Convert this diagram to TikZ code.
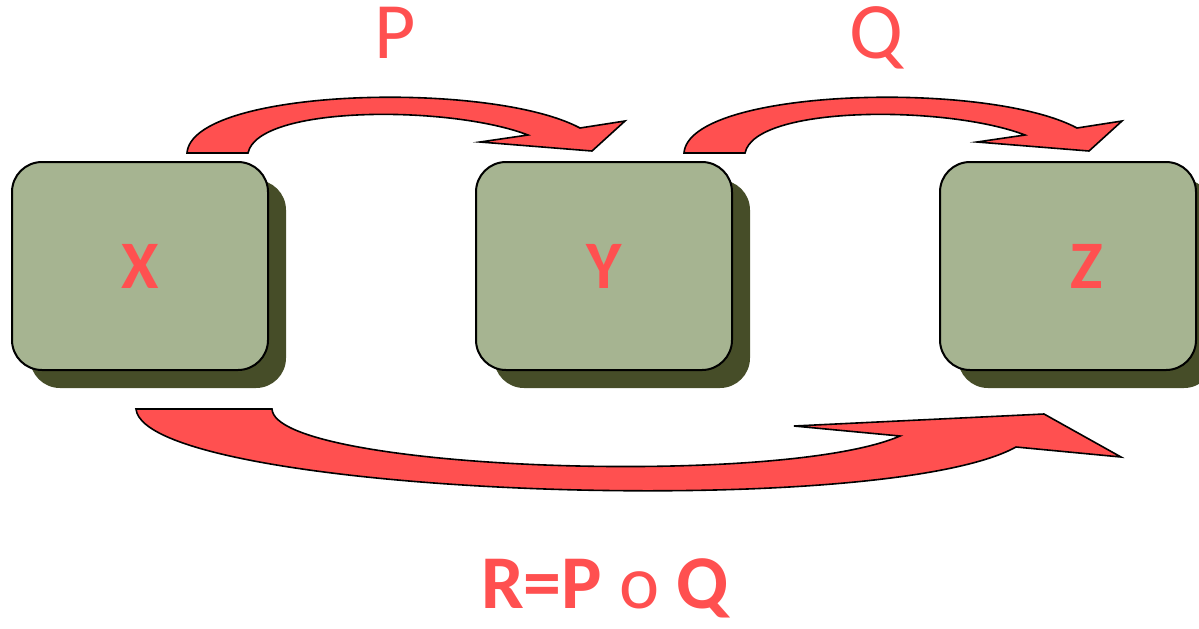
\documentclass[tikz,border=0pt]{standalone}
\usepackage{fontspec}
\setmainfont{Carlito}
\usepackage{tikz}
\usetikzlibrary{shadows}
\definecolor{boxgreen}{RGB}{166,180,145}
\definecolor{shadowolive}{RGB}{70,77,40}
\definecolor{arrowred}{RGB}{255,80,80}

\begin{document}
\begin{tikzpicture}[x=0.5pt,y=-0.5pt,
  box/.style={draw,line width=1pt,rounded corners=15pt,fill=boxgreen,minimum width=128pt,minimum height=104pt,
    drop shadow={shadow xshift=9pt,shadow yshift=-9pt,fill=shadowolive,opacity=1},
    font=\fontsize{34}{40}\selectfont\bfseries,text=arrowred},
  boxtext/.style={font=\fontsize{34}{40}\selectfont\bfseries,text=arrowred},
  lbl/.style={font=\fontsize{40}{48}\selectfont,text=arrowred,anchor=base},
  bigarr/.style={draw,line width=0.8pt,fill=arrowred,line join=miter}
]
\useasboundingbox (0,0) rectangle (1199,628);

\node[box] (setx) at (140,266) {X};
\node[box] (sety) at (604,266) {Y};
\node[box,label={[boxtext,xshift=9.5pt]center:Z}] (setz) at (1068,266) {};

% relation P : X -> Y
\draw[bigarr] (187,153) .. controls (192,88) and (490,80) .. (580,128) -- (625,121) -- (592,151)
  -- (480,142) -- (528,135) .. controls (450,105) and (258,105) .. (248,153) -- cycle;
% relation Q : Y -> Z
\begin{scope}[shift={(497,0)}]
\draw[bigarr] (187,153) .. controls (192,88) and (490,80) .. (580,128) -- (625,121) -- (592,151)
  -- (480,142) -- (528,135) .. controls (450,105) and (258,105) .. (248,153) -- cycle;
\end{scope}
% composition R : X -> Z
\draw[bigarr] (136,409) .. controls (145,495) and (880,522) .. (1016,447) -- (1121,457) -- (1044,414)
  -- (794,426) -- (900,436) .. controls (780,488) and (275,470) .. (272,409) -- cycle;

\node[lbl] (relp) at (395,58) {P};
\node[lbl] (relq) at (876,58) {Q};
\node[lbl,inner sep=0pt,font=\fontsize{38}{46}\selectfont] (relr) at (605,608) {{\bfseries R=P} o {\bfseries Q}};
\end{tikzpicture}
\end{document}
